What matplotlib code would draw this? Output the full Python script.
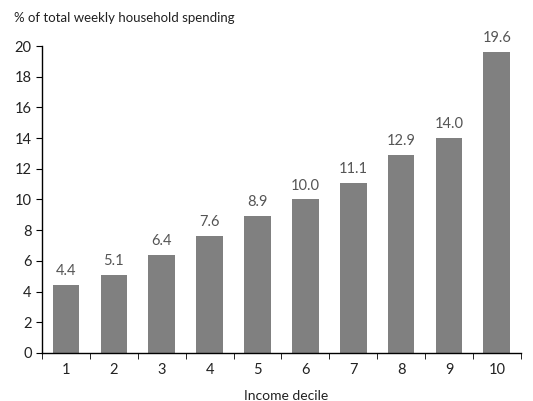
import matplotlib.pyplot as plt
import numpy as np

plt.rcParams['font.family'] = ['Lato', 'DejaVu Sans']

deciles = ["1", "2", "3", "4", "5", "6", "7", "8", "9", "10"]
spending = [4.4, 5.1, 6.4, 7.6, 8.9, 10.0, 11.1, 12.9, 14.0, 19.6]


def main():
    fig = plt.figure(figsize=(5.33, 4.01), dpi=100)
    ax = fig.add_axes([0.079, 0.12, 0.898, 0.765])

    x = np.arange(1, len(deciles) + 1)
    bars = ax.bar(x, spending, width=0.56, color="#808080")

    for b, v in zip(bars, spending):
        ax.text(b.get_x() + b.get_width() / 2, v + 0.45, f"{v:.1f}",
                ha="center", va="bottom", fontsize=10.5, color="#555555")

    ax.set_xlim(0.5, len(deciles) + 0.5)
    ax.set_ylim(0, 20)
    ax.set_yticks(np.arange(0, 21, 2))
    ax.set_xticks(x)
    ax.set_xticklabels(deciles)
    ax.set_xticks(np.arange(0.5, len(deciles) + 1, 1), minor=True)
    ax.tick_params(axis="x", which="major", length=0, pad=7, labelsize=10.5, labelcolor="#222222")
    ax.tick_params(axis="x", which="minor", length=4, direction="out", color="black")
    ax.tick_params(axis="y", length=4, direction="out", labelsize=10.5, labelcolor="#222222")

    for s in ["top", "right"]:
        ax.spines[s].set_visible(False)
    ax.spines["left"].set_linewidth(1.0)
    ax.spines["bottom"].set_linewidth(1.0)

    ax.set_xlabel("Income decile", fontsize=10, color="#222222")
    ax.xaxis.set_label_coords(0.51, -0.12)
    fig.text(0.026, 0.955, "% of total weekly household spending", fontsize=9.5,
             ha="left", va="center", color="#222222")

    fig.savefig("out.png", dpi=100)


main()
